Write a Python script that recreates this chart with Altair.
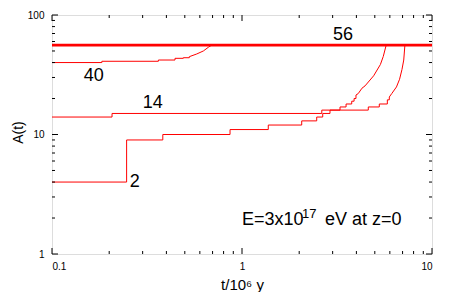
import altair as alt
import pandas as pd

# ---- data (t in 10^6 y, A = mass number) ----
s56_t = [0.1, 10]
s56_A = [56, 56]

s40_step_t = [0.1, 0.183, 0.363, 0.444, 0.491, 0.528]
s40_step_A = [40, 41, 42, 43.4, 43.9, 44.8]
s40_curve_t = [0.528, 0.578, 0.626, 0.665, 0.693]
s40_curve_A = [44.8, 47.2, 50, 53.7, 56]

s14_step_t = [0.1, 0.207, 2.63, 3.28, 3.53, 3.78, 3.89, 3.98]
s14_step_A = [14, 15, 16, 17, 18, 19, 20, 21.4]
s14_curve_t = [3.98, 4.09, 4.28, 4.44, 4.93, 5.35, 5.54, 5.74]
s14_curve_A = [21.4, 22, 24.4, 25.5, 31, 38.5, 45, 56]

s2_step_t = [0.1, 0.247, 0.383, 0.865, 1.375, 2.062, 2.473, 2.66, 2.905, 4.62, 5.28, 5.82, 5.96]
s2_step_A = [4, 9, 10, 11, 12, 13, 14, 15, 16, 17, 18, 19.5, 20.6]
s2_curve_t = [5.96, 6.14, 6.5, 6.75, 6.95, 7.1, 7.2]
s2_curve_A = [20.6, 22, 25, 29, 35, 42, 56]

label_text = ["56", "40", "14", "2"]
label_t = [3.40, 0.166, 0.339, 0.273]
label_A = [68, 30.9, 18.3, 4.0]

note_t = [1.0]
note_A = [1.74]
note_parts = ["E=3x10", "17", "eV at z=0"]

x_major = [0.1, 1, 10]
x_minor = [0.2, 0.3, 0.4, 0.5, 0.6, 0.7, 0.8, 0.9, 2, 3, 4, 5, 6, 7, 8, 9]
y_major = [1, 10, 100]
y_minor = [2, 3, 4, 5, 6, 7, 8, 9, 20, 30, 40, 50, 60, 70, 80, 90]

W, H = 380, 239
FONT = "Liberation Sans"
RED = "#ff0000"

# ---- build tables ----
rows = []
for name, (st, sa, ct, ca) in {
    "40": (s40_step_t, s40_step_A, s40_curve_t, s40_curve_A),
    "14": (s14_step_t, s14_step_A, s14_curve_t, s14_curve_A),
    "2": (s2_step_t, s2_step_A, s2_curve_t, s2_curve_A),
}.items():
    for t, a in zip(st, sa):
        rows.append({"t": t, "A": a, "series": name, "part": "step"})
    for t, a in zip(ct, ca):
        rows.append({"t": t, "A": a, "series": name, "part": "curve"})
df = pd.DataFrame(rows)
df56 = pd.DataFrame({"t": s56_t, "A": s56_A})
labels = pd.DataFrame({"t": label_t, "A": label_A, "label": label_text})
note = pd.DataFrame({"t": note_t, "A": note_A})

xs = alt.Scale(type="log", domain=[0.1, 10], nice=False)
ys = alt.Scale(type="log", domain=[1, 100], nice=False)

x_axis = alt.Axis(values=x_major, format="~g", title="t/10⁶ y", labelPadding=7,
                  grid=False, ticks=False, domain=False,
                  titleFontSize=15, titleFont=FONT, titleFontWeight="normal",
                  titleBaseline="alphabetic", titleY=35, titleColor="black")
y_axis = alt.Axis(values=y_major, format="~g", title="A(t)", labelPadding=8,
                  grid=False, ticks=False, domain=False,
                  titleFontSize=14, titleFont=FONT, titleFontWeight="normal",
                  titleX=-34, titleY=117, titleBaseline="middle", titleAngle=270,
                  titleColor="black")

X = alt.X("t:Q", scale=xs, axis=x_axis)
Y = alt.Y("A:Q", scale=ys, axis=y_axis)

thick = alt.Chart(df56).mark_line(color=RED, strokeWidth=2.6).encode(x=X, y=Y)

steps = alt.Chart(df).transform_filter(alt.datum.part == "step").mark_line(
    color=RED, strokeWidth=1, interpolate="step-after"
).encode(x=X, y=Y, detail="series:N")

curves = alt.Chart(df).transform_filter(alt.datum.part == "curve").mark_line(
    color=RED, strokeWidth=1
).encode(x=X, y=Y, detail="series:N")

lab = alt.Chart(labels).mark_text(font=FONT, fontSize=18, color="black",
                                   align="center", baseline="middle").encode(
    x=X, y=Y, text="label:N")

def note_layer(txt, dx, dy, size):
    return alt.Chart(note).mark_text(font=FONT, fontSize=size, color="black",
                                     align="left", baseline="alphabetic",
                                     dx=dx, dy=dy, text=txt).encode(x=X, y=Y)

n1 = note_layer(note_parts[0], 0, 0, 18)
n2 = note_layer(note_parts[1], 60, -7.5, 13)
n3 = note_layer(note_parts[2], 83, 0, 18)

def xticks(vals, length):
    d = pd.DataFrame({"t": vals})
    bot = alt.Chart(d).mark_rule(color="black", strokeWidth=1).encode(
        x=X, y=alt.value(H), y2=alt.value(H - length))
    top = alt.Chart(d).mark_rule(color="black", strokeWidth=1).encode(
        x=X, y=alt.value(0), y2=alt.value(length))
    return [bot, top]

def yticks(vals, length):
    d = pd.DataFrame({"A": vals})
    lef = alt.Chart(d).mark_rule(color="black", strokeWidth=1).encode(
        y=Y, x=alt.value(0), x2=alt.value(length))
    rig = alt.Chart(d).mark_rule(color="black", strokeWidth=1).encode(
        y=Y, x=alt.value(W), x2=alt.value(W - length))
    return [lef, rig]

tick_layers = xticks(x_major, 6) + xticks(x_minor, 3) + yticks(y_major, 6) + yticks(y_minor, 3)

chart = alt.layer(thick, steps, curves, lab, n1, n2, n3, *tick_layers).properties(
    width=W, height=H,
    autosize=alt.AutoSizeParams(type="none"),
    padding={"left": 44, "top": 7, "right": 14, "bottom": 40},
).configure_view(
    stroke="black", strokeWidth=1.5
).configure_axis(
    domain=False, ticks=False, grid=False,
    labelFont=FONT, labelFontSize=11.5, labelColor="black",
).configure(background="white")

chart.save("out.html", embed_options={"renderer": "svg", "actions": False})
